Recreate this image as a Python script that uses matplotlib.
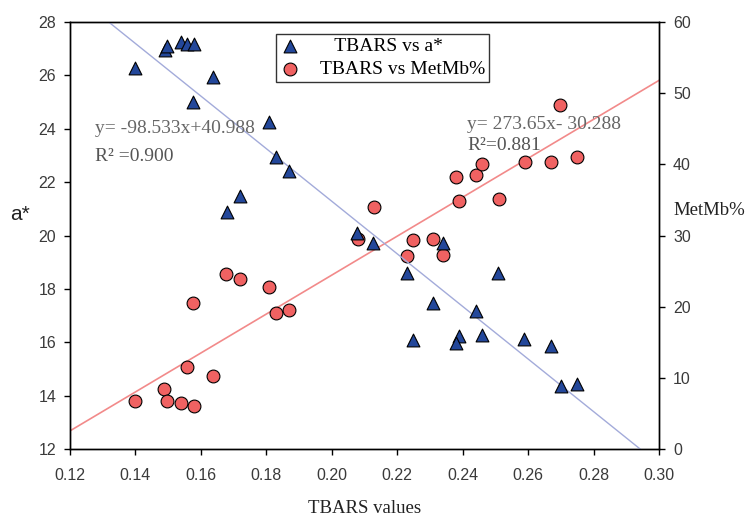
import numpy as np
import matplotlib
matplotlib.use("Agg")
import matplotlib.pyplot as plt

# TBARS vs a* (left axis)
tbars_a = [0.140, 0.149, 0.1496, 0.154, 0.1557, 0.158, 0.1576, 0.1637, 0.1808,
           0.183, 0.1869, 0.172, 0.168, 0.2077, 0.2126, 0.234, 0.223, 0.2508,
           0.2309, 0.2441, 0.2248, 0.2389, 0.238, 0.2459, 0.2588, 0.267,
           0.270, 0.275]
a_star = [26.28, 26.95, 27.10, 27.25, 27.18, 27.18, 25.00, 25.94, 24.25,
          22.94, 22.42, 21.48, 20.88, 20.10, 19.72, 19.72, 18.60, 18.60,
          17.48, 17.18, 16.09, 16.24, 15.98, 16.28, 16.13, 15.87, 14.37, 14.44]

# TBARS vs MetMb% (right axis)
tbars_m = [0.140, 0.1487, 0.1496, 0.154, 0.158, 0.1557, 0.1576, 0.1637,
           0.1677, 0.172, 0.1808, 0.183, 0.1869, 0.2129, 0.208, 0.2248,
           0.2309, 0.238, 0.2441, 0.2459, 0.2389, 0.2511, 0.223, 0.234,
           0.2698, 0.2591, 0.267, 0.275]
metmb = [6.75, 8.43, 6.75, 6.47, 6.05, 11.53, 20.52, 10.26, 24.59, 23.89,
         22.77, 19.11, 19.53, 34.0, 29.51, 29.37, 29.51, 38.22, 38.5, 40.05,
         34.85, 35.13, 27.12, 27.26, 48.34, 40.33, 40.33, 41.03]

# fitted lines as printed on the chart
fit_a = (-98.533, 40.988)
fit_m = (273.65, -30.288)

SERIF = "Liberation Serif"
SANS = "Liberation Sans"
TICK_COL = "#3a3a3a"

fig = plt.figure(figsize=(7.49, 5.18), dpi=100)
ax = fig.add_axes([0.0935, 0.1332, 0.7865, 0.8243])
ax2 = ax.twinx()

xx = np.array([0.12, 0.30])
ax.plot(xx, fit_a[0] * xx + fit_a[1], color="#A3ABDA", lw=1.0, zorder=2)
ax2.plot(xx, fit_m[0] * xx + fit_m[1], color="#F28A8A", lw=1.2, zorder=2)

h1 = ax.scatter(tbars_a, a_star, marker="^", s=85, color="#23479A",
                edgecolors="black", linewidths=0.8, zorder=3,
                label="   TBARS vs a*")
h2 = ax2.scatter(tbars_m, metmb, marker="o", s=85, color="#F06262",
                 edgecolors="black", linewidths=0.8, zorder=3,
                 label="TBARS vs MetMb%")

ax.set_xlim(0.12, 0.30)
ax.set_ylim(12, 28)
ax2.set_ylim(0, 60)
ax.set_xticks(np.arange(0.12, 0.301, 0.02))
ax.set_xticklabels([f"{v:.2f}" for v in np.arange(0.12, 0.301, 0.02)])
ax.set_yticks(range(12, 29, 2))
ax2.set_yticks(range(0, 61, 10))

for a in (ax, ax2):
    a.tick_params(direction="out", length=4, width=1, labelsize=11.5,
                  labelcolor=TICK_COL, pad=6)
    for lab in a.get_xticklabels() + a.get_yticklabels():
        lab.set_family(SANS)
    for s in a.spines.values():
        s.set_linewidth(1.0)
ax.tick_params(axis="x", pad=10)

# axis titles placed in figure coords, as in the original layout
fig.text(0.4866, 0.019, "TBARS values", family=SERIF, fontsize=13.5,
         ha="center", va="center", color="#222222")
fig.text(0.013, 0.575, "a*", family=SANS, fontsize=15, color="#222222")
fig.text(0.8985, 0.585, "MetMb%", family=SERIF, fontsize=13.5, color="#222222")

ax.text(0.1276, 23.85, "y= -98.533x+40.988", family=SERIF, fontsize=14,
        color="#666666")
ax.text(0.1276, 22.78, "R² =0.900", family=SERIF, fontsize=14,
        color="#555555")
ax.text(0.2413, 24.0, "y= 273.65x- 30.288", family=SERIF, fontsize=14,
        color="#666666")
ax.text(0.2413, 23.2, "R²=0.881", family=SERIF, fontsize=14,
        color="#555555")

leg = ax.legend(handles=[h1, h2], loc="upper left",
                bbox_to_anchor=(0.35, 0.972), borderaxespad=0,
                frameon=True, fancybox=False,
                prop={"family": SERIF, "size": 14}, handletextpad=1.07,
                borderpad=0.2, labelspacing=0.25, handlelength=1.0)
leg.get_frame().set_edgecolor("black")
leg.get_frame().set_linewidth(1.0)
ax.set_zorder(ax2.get_zorder() + 1)
ax.patch.set_visible(False)

fig.savefig("out.png", dpi=100)
